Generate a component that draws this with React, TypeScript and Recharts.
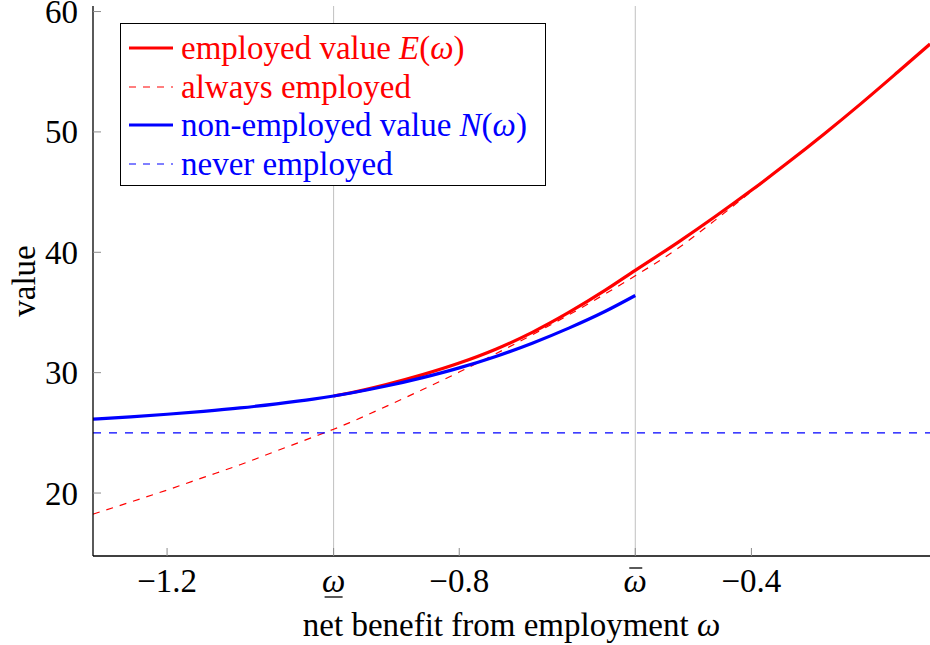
import React from 'react';
import { ComposedChart, Line, XAxis, YAxis, ReferenceLine, Legend, Label } from 'recharts';

const OMEGA = [-1.3014, -1.25, -1.2, -1.15, -1.1, -1.05, -1.0, -0.972, -0.95, -0.9, -0.85, -0.8, -0.75, -0.7, -0.65, -0.6, -0.559, -0.5, -0.45, -0.4, -0.35, -0.3, -0.25, -0.2, -0.1555];
const EMPLOYED = [null, null, null, null, null, null, null, 28.06, 28.31, 29.01, 29.84, 30.8, 31.95, 33.35, 35.0, 36.85, 38.5, 40.85, 42.95, 45.15, 47.45, 49.85, 52.35, 54.95, 57.3];
const ALWAYS_EMPLOYED = [18.25, 19.25, 20.25, 21.3, 22.35, 23.5, 24.65, 25.3, 25.85, 27.2, 28.6, 30.05, 31.57, 33.15, 34.8, 36.55, 38.05, 40.35, 42.65, 45.05, 47.45, 49.85, 52.35, 54.95, 57.3];
const NON_EMPLOYED = [26.14, 26.33, 26.545, 26.79, 27.07, 27.41, 27.8, 28.06, 28.29, 28.89, 29.59, 30.4, 31.35, 32.45, 33.7, 35.1, 36.41, null, null, null, null, null, null, null, null];
const NEVER_EMPLOYED = 25;

const OMEGA_LOW = -0.972;
const OMEGA_HIGH = -0.559;
const X_DOMAIN = [-1.3014, -0.1555];
const Y_DOMAIN = [14.77, 60.46];
const X_TICKS = [-1.2, OMEGA_LOW, -0.8, OMEGA_HIGH, -0.4];
const X_TICK_LABELS = ['\u22121.2', '\u03c9', '\u22120.8', '\u03c9', '\u22120.4'];
const X_TICK_ACCENTS = ['', 'under', '', 'bar', ''];
const Y_TICKS = [20, 30, 40, 50, 60];
const Y_TICK_LABELS = ['20', '30', '40', '50', '60'];
const X_LABEL_TEXT = 'net benefit from employment ';
const X_LABEL_MATH = '\u03c9';
const Y_LABEL_TEXT = 'value';

const FONT = "'Liberation Serif', 'Times New Roman', Times, 'DejaVu Serif', serif";
const FONT_SIZE = 33;
const RED = '#ff0000';
const BLUE = '#0000ff';
const TICK_GREY = '#8c8c8c';
const GRID_GREY = '#c0c0c0';

const data = OMEGA.map((w, i) => ({
  omega: w,
  employed: EMPLOYED[i],
  always: ALWAYS_EMPLOYED[i],
  non: NON_EMPLOYED[i],
}));

const findIndex = (arr: number[], v: number) => {
  let best = 0;
  for (let i = 0; i < arr.length; i++) if (Math.abs(arr[i] - v) < Math.abs(arr[best] - v)) best = i;
  return best;
};

const XTick = (props: any) => {
  const { x, y, payload } = props;
  const i = findIndex(X_TICKS, payload.value);
  const accent = X_TICK_ACCENTS[i];
  const italic = accent !== '';
  return (
    <g>
      <line x1={x} x2={x} y1={y} y2={y - 8} stroke={TICK_GREY} strokeWidth={1} />
      <text x={x} y={y + 36} textAnchor="middle" fontFamily={FONT} fontSize={FONT_SIZE} fontStyle={italic ? 'italic' : 'normal'} fill="#000">
        {X_TICK_LABELS[i]}
      </text>
      {accent === 'under' && <line x1={x - 9} x2={x + 9} y1={y + 41} y2={y + 41} stroke="#000" strokeWidth={1.3} />}
      {accent === 'bar' && <line x1={x - 6} x2={x + 7} y1={y + 12} y2={y + 12} stroke="#000" strokeWidth={1.3} />}
    </g>
  );
};

const TopTick = (props: any) => {
  const { x, y } = props;
  return <line x1={x} x2={x} y1={y} y2={y + 8} stroke={TICK_GREY} strokeWidth={1} />;
};

const YTick = (props: any) => {
  const { x, y, payload } = props;
  const i = findIndex(Y_TICKS, payload.value);
  return (
    <g>
      <line x1={x} x2={x + 8} y1={y} y2={y} stroke={TICK_GREY} strokeWidth={1} />
      <text x={x - 15} y={y} dy="0.35em" textAnchor="end" fontFamily={FONT} fontSize={FONT_SIZE} fill="#000">
        {Y_TICK_LABELS[i]}
      </text>
    </g>
  );
};

const RightTick = (props: any) => {
  const { x, y } = props;
  return <line x1={x - 8} x2={x} y1={y} y2={y} stroke={TICK_GREY} strokeWidth={1} />;
};

const XLabelContent = (props: any) => {
  const vb = props.viewBox || {};
  const cx = vb.x + vb.width / 2;
  const by = vb.y + vb.height - 9;
  return (
    <text x={cx} y={by} textAnchor="middle" fontFamily={FONT} fontSize={FONT_SIZE} fill="#000">
      {X_LABEL_TEXT}
      <tspan fontStyle="italic">{X_LABEL_MATH}</tspan>
    </text>
  );
};

const YLabelContent = (props: any) => {
  const vb = props.viewBox || {};
  const cx = vb.x + 35;
  const cy = vb.y + vb.height / 2;
  return (
    <text x={cx} y={cy} transform={`rotate(-90 ${cx} ${cy})`} textAnchor="middle" fontFamily={FONT} fontSize={FONT_SIZE} fill="#000">
      {Y_LABEL_TEXT}
    </text>
  );
};

const LEGEND_ITEMS = [
  { text: 'employed value ', math: 'E', color: RED, dashed: false },
  { text: 'always employed', math: '', color: RED, dashed: true },
  { text: 'non-employed value ', math: 'N', color: BLUE, dashed: false },
  { text: 'never employed', math: '', color: BLUE, dashed: true },
];

const renderLegend = () => (
  <div
    style={{
      boxSizing: 'border-box',
      width: '100%',
      height: '100%',
      border: '1px solid #000',
      background: '#fff',
      paddingTop: 5,
      fontFamily: FONT,
      fontSize: FONT_SIZE,
    }}
  >
    {LEGEND_ITEMS.map((it, i) => (
      <div key={i} style={{ display: 'flex', alignItems: 'center', height: 38.5, whiteSpace: 'nowrap' }}>
        <svg width={60} height={20} style={{ flex: 'none' }}>
          <line
            x1={8}
            x2={52}
            y1={10}
            y2={10}
            stroke={it.color}
            strokeWidth={it.dashed ? 1.2 : 3.2}
            strokeDasharray={it.dashed ? '7 7' : undefined}
          />
        </svg>
        <span style={{ color: it.color, lineHeight: '38.5px' }}>
          {it.text}
          {it.math && (
            <>
              <i>{it.math}</i>(<i>{'\u03c9'}</i>)
            </>
          )}
        </span>
      </div>
    ))}
  </div>
);

export default function App() {
  return (
    <div style={{ position: 'absolute', left: 0, top: 0, width: 930, height: 645, background: '#fff' }}>
      <ComposedChart width={930} height={645} data={data} margin={{ top: 6, right: 0, left: 0, bottom: 0 }}>
        <XAxis
          dataKey="omega"
          type="number"
          domain={X_DOMAIN}
          allowDataOverflow
          ticks={X_TICKS}
          interval={0}
          height={89}
          tickSize={0}
          tickMargin={0}
          tickLine={false}
          axisLine={{ stroke: '#000', strokeWidth: 1.3 }}
          tick={<XTick />}
        >
          <Label content={<XLabelContent />} />
        </XAxis>
        <XAxis
          xAxisId="top"
          orientation="top"
          dataKey="omega"
          type="number"
          domain={X_DOMAIN}
          allowDataOverflow
          ticks={X_TICKS}
          interval={0}
          height={0}
          tickSize={0}
          tickMargin={0}
          tickLine={false}
          axisLine={{ stroke: '#000', strokeWidth: 1.3 }}
          tick={<TopTick />}
        />
        <YAxis
          type="number"
          domain={Y_DOMAIN}
          allowDataOverflow
          ticks={Y_TICKS}
          interval={0}
          width={93}
          tickSize={0}
          tickMargin={0}
          tickLine={false}
          axisLine={{ stroke: '#000', strokeWidth: 1.3 }}
          tick={<YTick />}
        >
          <Label content={<YLabelContent />} />
        </YAxis>
        <YAxis
          yAxisId="r"
          orientation="right"
          type="number"
          domain={Y_DOMAIN}
          allowDataOverflow
          ticks={Y_TICKS}
          interval={0}
          width={0}
          tickSize={0}
          tickMargin={0}
          tickLine={false}
          axisLine={false}
          tick={<RightTick />}
        />
        <ReferenceLine x={OMEGA_LOW} stroke={GRID_GREY} strokeWidth={1} />
        <ReferenceLine x={OMEGA_HIGH} stroke={GRID_GREY} strokeWidth={1} />
        <Line dataKey="employed" type="monotone" stroke={RED} strokeWidth={3.2} dot={false} activeDot={false} isAnimationActive={false} />
        <Line dataKey="always" type="monotone" stroke={RED} strokeWidth={1.2} strokeDasharray="7 7" dot={false} activeDot={false} isAnimationActive={false} />
        <Line dataKey="non" type="monotone" stroke={BLUE} strokeWidth={3.2} dot={false} activeDot={false} isAnimationActive={false} />
        <ReferenceLine y={NEVER_EMPLOYED} stroke={BLUE} strokeWidth={1.2} strokeDasharray="8 8" />
        <Legend
          layout="vertical"
          align="center"
          verticalAlign="middle"
          content={renderLegend}
          wrapperStyle={{ position: 'absolute', left: 120, top: 23, width: 426, height: 163, margin: 0, padding: 0 }}
        />
      </ComposedChart>
    </div>
  );
}
